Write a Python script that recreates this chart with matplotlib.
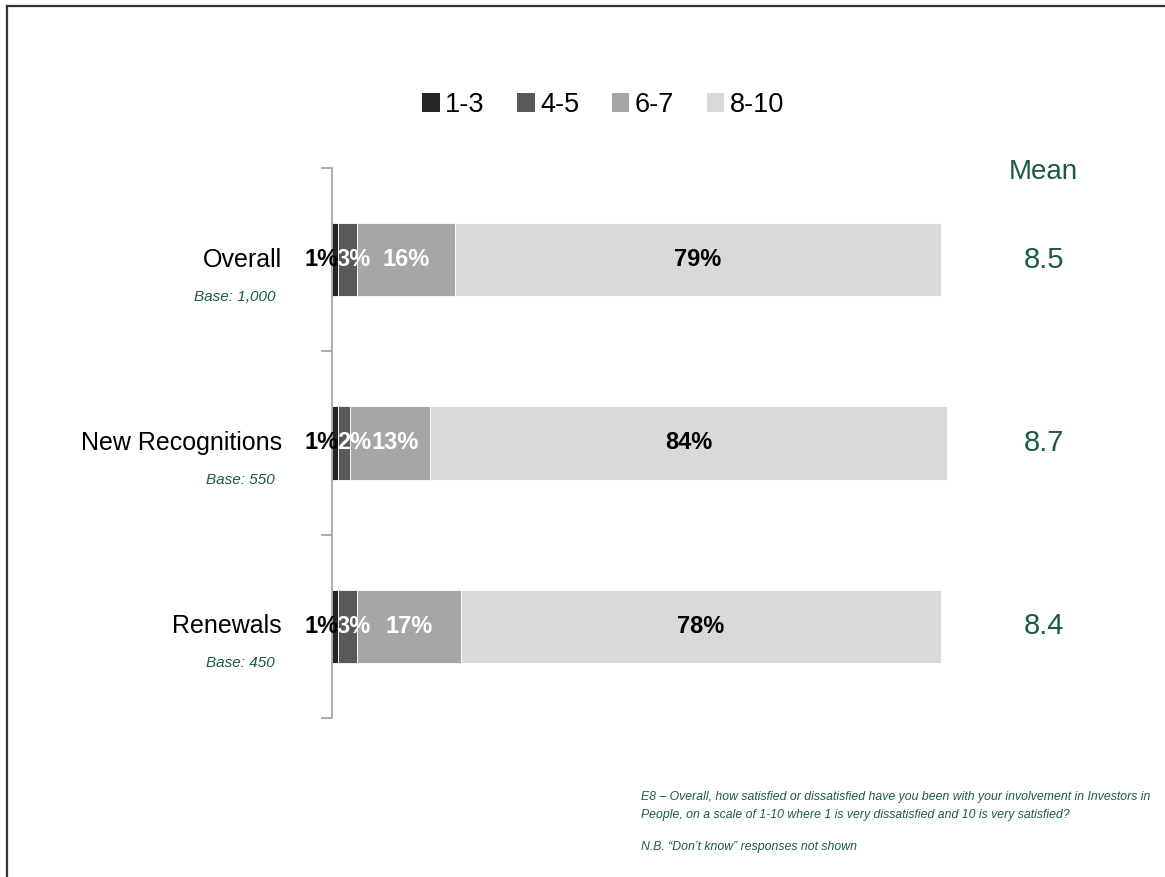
import matplotlib.pyplot as plt
from matplotlib.lines import Line2D
from matplotlib.patches import Patch
import numpy as np

plt.rcParams['font.family'] = ['Liberation Sans', 'DejaVu Sans']

groups = ['Overall', 'New Recognitions', 'Renewals']
bases = ['Base: 1,000', 'Base: 550', 'Base: 450']
bands = ['1-3', '4-5', '6-7', '8-10']
scores = np.array([
    [1, 3, 16, 79],
    [1, 2, 13, 84],
    [1, 3, 17, 78],
])
means = [8.5, 8.7, 8.4]

colors = ['#262626', '#595959', '#a6a6a6', '#d9d9d9']
label_colors = ['black', 'white', 'white', 'black']
green = '#1d5a45'

fig = plt.figure(figsize=(11.65, 8.77), dpi=100)
ax = fig.add_axes([332 / 1165, 1 - 718 / 877, 615 / 1165, 550 / 877])

y = np.arange(len(groups))
left = np.zeros(len(groups))
for j, band in enumerate(bands):
    ax.barh(y, scores[:, j], left=left, height=0.4, color=colors[j],
            edgecolor='white', linewidth=0.6, label=band)
    for i in range(len(groups)):
        v = scores[i, j]
        dx = 0
        if j == 0:
            x, ha = left[i] + v, 'right'
        elif j == 1:
            x, ha = left[i] - 0.2, 'left'
        else:
            x, ha = left[i] + v / 2, 'center'
            if v < 15:
                dx = 5  # keep clear of the narrow label before it
        ax.annotate(f'{v}%', xy=(x, y[i]), xytext=(dx, 0), textcoords='offset pixels',
                    ha=ha, va='center', fontsize=17, fontweight='bold',
                    color=label_colors[j])
    left += scores[:, j]

ax.set_xlim(0, 100)
ax.set_ylim(2.5, -0.5)
ax.set_xticks([])
ax.set_yticks([-0.5, 0.5, 1.5, 2.5])
ax.set_yticklabels([])
ax.tick_params(axis='y', length=8, color='#a0a0a0', width=1.2)
for s in ['top', 'right', 'bottom']:
    ax.spines[s].set_visible(False)
ax.spines['left'].set_color('#a0a0a0')
ax.spines['left'].set_linewidth(1.2)

# category names and bases to the left of the axis, means on the right
for i, g in enumerate(groups):
    ax.annotate(g, xy=(0, y[i]), xycoords=('axes fraction', 'data'),
                xytext=(-50, 0), textcoords='offset pixels',
                ha='right', va='center', fontsize=18)
    ax.annotate(bases[i], xy=(0, y[i]), xycoords=('axes fraction', 'data'),
                xytext=(-57, -37), textcoords='offset pixels',
                ha='right', va='center', fontsize=11, style='italic', color=green)
    ax.annotate(f'{means[i]:.1f}', xy=(1, y[i]), xycoords=('axes fraction', 'data'),
                xytext=(97, 0), textcoords='offset pixels',
                ha='center', va='center', fontsize=21, color=green)

fig.text(1043 / 1165, 1 - 172 / 877, 'Mean', ha='center', va='center',
         fontsize=20, color=green)

handles = [Patch(facecolor=c, edgecolor='none') for c in colors]
fig.legend(handles, bands, loc='center', bbox_to_anchor=(603 / 1165, 1 - 105 / 877),
           ncol=4, frameon=False, fontsize=19.5, handlelength=0.65, handleheight=0.65,
           handletextpad=0.2, columnspacing=1.2)

fig.text(641 / 1165, 1 - 806 / 877,
         'E8 – Overall, how satisfied or dissatisfied have you been with your involvement in Investors in\n'
         'People, on a scale of 1-10 where 1 is very dissatisfied and 10 is very satisfied?',
         ha='left', va='center', fontsize=8.8, style='italic', color=green,
         linespacing=1.7)
fig.text(641 / 1165, 1 - 847 / 877, 'N.B. \u201cDon\u2019t know\u201d responses not shown',
         ha='left', va='center', fontsize=8.8, style='italic', color=green)

# outer frame (top and left edges)
fig.add_artist(Line2D([6.5 / 1165, 6.5 / 1165], [0, 1 - 5.5 / 877],
                      transform=fig.transFigure, color='#333333', linewidth=1.6))
fig.add_artist(Line2D([6.5 / 1165, 1], [1 - 5.5 / 877, 1 - 5.5 / 877],
                      transform=fig.transFigure, color='#333333', linewidth=1.6))

fig.savefig('out.png', dpi=100)
